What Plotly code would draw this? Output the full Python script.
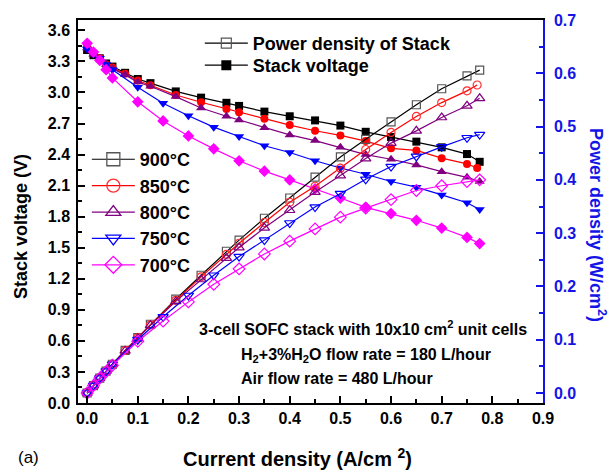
import plotly.graph_objects as go

# ---------------- data ----------------
# current density grids (A/cm2)
J_900 = [0, 0.0125, 0.025, 0.0375, 0.05, 0.075, 0.1, 0.125, 0.175, 0.225, 0.275, 0.3,
         0.35, 0.4, 0.45, 0.5, 0.55, 0.6, 0.65, 0.7, 0.75, 0.775]
J_850 = [0, 0.0125, 0.025, 0.0375, 0.05, 0.075, 0.1, 0.125, 0.175, 0.225, 0.275, 0.3,
         0.35, 0.4, 0.45, 0.5, 0.55, 0.6, 0.65, 0.7, 0.75, 0.77]
J_800 = [0, 0.0125, 0.025, 0.0375, 0.05, 0.075, 0.1, 0.125, 0.175, 0.225, 0.275, 0.3,
         0.35, 0.4, 0.45, 0.5, 0.55, 0.6, 0.65, 0.7, 0.75, 0.775]
J_750 = [0, 0.0125, 0.025, 0.0375, 0.05, 0.1, 0.15, 0.2, 0.25, 0.3,
         0.35, 0.4, 0.45, 0.5, 0.55, 0.6, 0.65, 0.7, 0.75, 0.775]
J_700 = [0, 0.0125, 0.025, 0.0375, 0.05, 0.1, 0.15, 0.2, 0.25, 0.3,
         0.35, 0.4, 0.45, 0.5, 0.55, 0.6, 0.65, 0.7, 0.75, 0.775]

# stack voltage (V)
V_900 = [3.41, 3.36, 3.33, 3.28, 3.25, 3.19, 3.13, 3.09, 3.01, 2.95, 2.90, 2.87,
         2.815, 2.77, 2.73, 2.68, 2.62, 2.57, 2.525, 2.47, 2.405, 2.33]
V_850 = [3.44, 3.38, 3.33, 3.27, 3.24, 3.18, 3.115, 3.07, 2.975, 2.905, 2.84, 2.81,
         2.745, 2.685, 2.63, 2.585, 2.53, 2.46, 2.44, 2.365, 2.31, 2.27]
V_800 = [3.43, 3.37, 3.33, 3.27, 3.23, 3.17, 3.10, 3.06, 2.96, 2.85, 2.77, 2.735,
         2.66, 2.59, 2.535, 2.47, 2.40, 2.355, 2.30, 2.235, 2.18, 2.14]
V_750 = [3.42, 3.37, 3.33, 3.27, 3.22, 3.05, 2.895, 2.775, 2.665, 2.575,
         2.485, 2.42, 2.34, 2.27, 2.21, 2.14, 2.085, 2.01, 1.935, 1.87]
V_700 = [3.475, 3.39, 3.31, 3.22, 3.14, 2.91, 2.725, 2.58, 2.455, 2.34,
         2.24, 2.155, 2.07, 1.98, 1.89, 1.83, 1.765, 1.69, 1.60, 1.54]

# power density of stack (W/cm2)
P_900 = [0.0, 0.014, 0.028, 0.041, 0.054, 0.080, 0.104, 0.129, 0.176, 0.221, 0.266, 0.287,
         0.328, 0.366, 0.405, 0.443, 0.476, 0.509, 0.541, 0.571, 0.595, 0.606]
P_850 = [0.0, 0.014, 0.028, 0.041, 0.054, 0.080, 0.104, 0.128, 0.174, 0.218, 0.260, 0.281,
         0.320, 0.358, 0.388, 0.422, 0.457, 0.489, 0.519, 0.545, 0.567, 0.578]
P_800 = [0.0, 0.014, 0.028, 0.041, 0.054, 0.079, 0.103, 0.127, 0.172, 0.213, 0.253, 0.273,
         0.310, 0.343, 0.377, 0.408, 0.440, 0.469, 0.492, 0.517, 0.539, 0.553]
P_750 = [0.0, 0.014, 0.028, 0.041, 0.054, 0.100, 0.143, 0.183, 0.221, 0.256,
         0.287, 0.319, 0.349, 0.374, 0.401, 0.425, 0.444, 0.462, 0.479, 0.485]
P_700 = [0.0, 0.014, 0.028, 0.040, 0.052, 0.097, 0.135, 0.171, 0.204, 0.233,
         0.261, 0.285, 0.308, 0.330, 0.347, 0.363, 0.380, 0.389, 0.397, 0.400]

temps = ["900", "850", "800", "750", "700"]
colors = ["#000000", "#ff0000", "#800080", "#0000ff", "#ff00ff"]
open_colors = ["#555555", "#ff3030", "#800080", "#0000ff", "#ff00ff"]
symbols = ["square", "circle", "triangle-up", "triangle-down", "diamond"]
J_all = [J_900, J_850, J_800, J_750, J_700]
V_all = [V_900, V_850, V_800, V_750, V_700]
P_all = [P_900, P_850, P_800, P_750, P_700]

FONT = "Liberation Sans, Arial, sans-serif"
BLUE = "#1414e6"

fig = go.Figure()

for t, c, oc, s, J, V, P in zip(temps, colors, open_colors, symbols, J_all, V_all, P_all):
    msize = 8 if s in ("square", "circle") else 9
    # stack voltage (filled)
    fig.add_trace(go.Scatter(
        x=J, y=V, mode="lines+markers", yaxis="y",
        line=dict(color=c, width=1.2),
        marker=dict(symbol=s, size=msize, color=c, line=dict(width=0)),
        showlegend=False))
    # power density (open)
    fig.add_trace(go.Scatter(
        x=J, y=P, mode="lines+markers", yaxis="y2",
        line=dict(color=c, width=1.2),
        marker=dict(symbol=s + "-open", size=msize, color=oc, line=dict(width=1.2)),
        showlegend=False))
    # legend entry (bigger symbol, as in the reference legend)
    fig.add_trace(go.Scatter(
        x=[None], y=[None], mode="lines+markers", yaxis="y2",
        line=dict(color=c, width=1.2),
        marker=dict(symbol=s + "-open", size=13, color=oc, line=dict(width=1.3)),
        name=f"{t}°C", legend="legend2", legendgroup=t))

# legend-only entries for the top legend (one legend per row)
fig.add_trace(go.Scatter(x=[None], y=[None], mode="lines+markers",
                         line=dict(color="black", width=1.2),
                         marker=dict(symbol="square-open", size=10, color="#555555", line=dict(width=1.2)),
                         name="Power density of Stack", legend="legend"))
fig.add_trace(go.Scatter(x=[None], y=[None], mode="lines+markers",
                         line=dict(color="black", width=1.2),
                         marker=dict(symbol="square", size=10, color="black"),
                         name="Stack voltage", legend="legend3"))

axis_font = dict(family=FONT, size=16, color="black", weight="bold")
leg_font = dict(family=FONT, size=18, color="black", weight="bold")

fig.update_layout(
    width=610, height=470,
    margin=dict(l=78, r=67, t=20, b=67),
    paper_bgcolor="white", plot_bgcolor="white",
    font=dict(family=FONT),
    xaxis=dict(range=[-0.018, 0.9], tick0=0, dtick=0.1, tickformat=".1f",
               ticks="inside", ticklen=7, tickwidth=1.5, tickcolor="black",
               minor=dict(dtick=0.05, ticks="inside", ticklen=4, tickwidth=1.5, tickcolor="black"),
               showline=True, linecolor="black", linewidth=1.5, mirror=True,
               showgrid=False, zeroline=False, tickfont=axis_font),
    yaxis=dict(range=[0, 3.7], tick0=0, dtick=0.3, tickformat=".1f",
               ticks="inside", ticklen=7, tickwidth=1.5, tickcolor="black",
               minor=dict(dtick=0.15, ticks="inside", ticklen=4, tickwidth=1.5, tickcolor="black"),
               showline=True, linecolor="black", linewidth=1.5,
               showgrid=False, zeroline=False, tickfont=axis_font, ticklabelstandoff=3),
    yaxis2=dict(range=[-0.01875, 0.7], tick0=0, dtick=0.1, tickformat=".1f",
                overlaying="y", side="right",
                ticks="inside", ticklen=7, tickwidth=1.5, tickcolor=BLUE,
                minor=dict(dtick=0.05, ticks="inside", ticklen=4, tickwidth=1.5, tickcolor=BLUE),
                showline=True, linecolor=BLUE, linewidth=1.5,
                showgrid=False, zeroline=False, ticklabelstandoff=6,
                tickfont=dict(family=FONT, size=16, color=BLUE, weight="bold")),
    legend=dict(x=0.262, y=0.987, xanchor="left", yanchor="top",
                bgcolor="rgba(0,0,0,0)", borderwidth=0, itemwidth=43,
                font=leg_font, itemsizing="trace"),
    legend3=dict(x=0.262, y=0.9295, xanchor="left", yanchor="top",
                 bgcolor="rgba(0,0,0,0)", borderwidth=0, itemwidth=43,
                 font=leg_font, itemsizing="trace"),
    legend2=dict(x=0.019, y=0.684, xanchor="left", yanchor="top",
                 bgcolor="rgba(0,0,0,0)", borderwidth=0, itemwidth=43,
                 font=leg_font, tracegroupgap=0, itemsizing="trace"),
    annotations=[
        dict(text="Current density (A/cm <sup>2</sup>)", xref="paper", yref="paper",
             x=0.473, y=-0.141, xanchor="center", yanchor="middle", showarrow=False,
             font=dict(family=FONT, size=20, color="black", weight="bold")),
        dict(text="Stack voltage (V)", xref="paper", yref="paper", textangle=-90,
             x=-0.1226, y=0.462, xanchor="center", yanchor="middle", showarrow=False,
             font=dict(family=FONT, size=18, color="black", weight="bold")),
        dict(text="Power density (W/cm<sup>2</sup>)", xref="paper", yref="paper", textangle=90,
             x=1.116, y=0.465, xanchor="center", yanchor="middle", showarrow=False,
             font=dict(family=FONT, size=18, color=BLUE, weight="bold")),
        dict(text="(a)", xref="paper", yref="paper",
             x=-0.1075, y=-0.1436, xanchor="center", yanchor="middle", showarrow=False,
             font=dict(family=FONT, size=17, color="black")),
        dict(text="3-cell SOFC stack with 10x10 cm<sup>2</sup> unit cells", xref="paper", yref="paper",
             x=0.256, y=0.196, xanchor="left", yanchor="middle", showarrow=False,
             font=dict(family=FONT, size=16, color="black", weight="bold")),
        dict(text="H<sub>2</sub>+3%H<sub>2</sub>O flow rate = 180 L/hour", xref="paper", yref="paper",
             x=0.346, y=0.125, xanchor="left", yanchor="middle", showarrow=False,
             font=dict(family=FONT, size=16, color="black", weight="bold")),
        dict(text="Air flow rate = 480 L/hour", xref="paper", yref="paper",
             x=0.346, y=0.0627, xanchor="left", yanchor="middle", showarrow=False,
             font=dict(family=FONT, size=16, color="black", weight="bold")),
    ],
)

fig.write_html("out.html", config={"displayModeBar": False},
               post_script="document.body.style.margin='0px';")
